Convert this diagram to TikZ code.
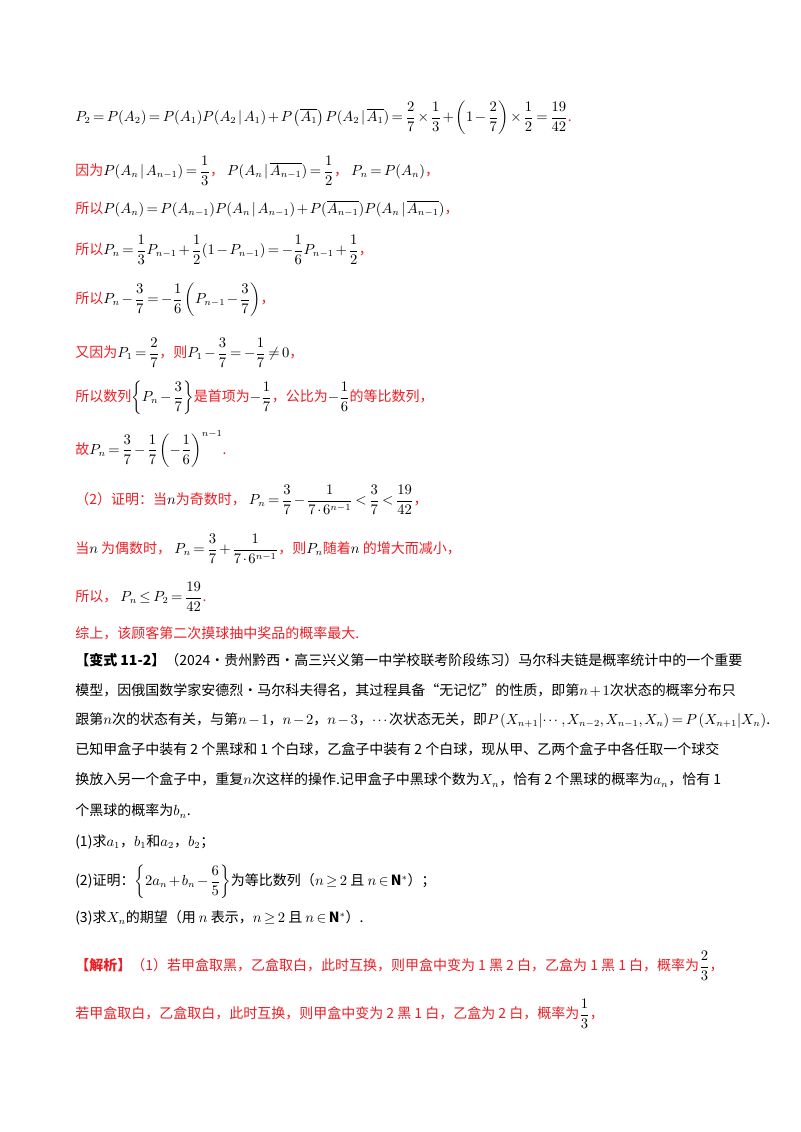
\documentclass[tikz,border=0pt]{standalone}
\usepackage{amsmath,amssymb}
\usepackage{fontspec}
\setmainfont{Noto Sans CJK SC}
\definecolor{ansred}{RGB}{236,30,36}
\thinmuskip=2mu \medmuskip=2mu plus 1mu \thickmuskip=3mu plus 1mu
\begin{document}
\begin{tikzpicture}[x=0.75pt,y=-0.75pt,
 txt/.style={anchor=west,inner sep=0pt,font=\fontsize{10.5}{12}\selectfont},
 red/.style={txt,text=ansred}]
\useasboundingbox (0,0) rectangle (800,1132);
\node[txt] (l1) at (75,118) {$P_2=P(A_2)=P(A_1)P(A_2\,|\,A_1)+P\left(\overline{A_1}\right)P(A_2\,|\,\overline{A_1})=\dfrac27\times\dfrac13+\left(1-\dfrac27\right)\times\dfrac12=\dfrac{19}{42}$\textcolor{ansred}{.}};
\node[red] (l2) at (75,171) {因为\textcolor{black}{$P(A_n\,|\,A_{n-1})=\dfrac13$}，\ \textcolor{black}{$P(A_n\,|\,\overline{A_{n-1}})=\dfrac12$}，\ \textcolor{black}{$P_n=P(A_n)$}，};
\node[red] (l3) at (75,209) {所以\textcolor{black}{$P(A_n)=P(A_{n-1})P(A_n\,|\,A_{n-1})+P(\overline{A_{n-1}})P(A_n\,|\,\overline{A_{n-1}})$}，};
\node[red] (l4) at (75,250) {所以\textcolor{black}{$P_n=\dfrac13P_{n-1}+\dfrac12(1-P_{n-1})=-\dfrac16P_{n-1}+\dfrac12$}，};
\node[red] (l5) at (75,300) {所以\textcolor{black}{$P_n-\dfrac37=-\dfrac16\left(P_{n-1}-\dfrac37\right)$}，};
\node[red] (l6) at (75,353) {又因为\textcolor{black}{$P_1=\dfrac27$}，则\textcolor{black}{$P_1-\dfrac37=-\dfrac17\neq0$}，};
\node[red] (l7) at (75,398) {所以数列\textcolor{black}{$\left\{P_n-\dfrac37\right\}$}是首项为\textcolor{black}{$-\dfrac17$}，公比为\textcolor{black}{$-\dfrac16$}的等比数列，};
\node[red] (l8) at (75,449) {故\textcolor{black}{$P_n=\dfrac37-\dfrac17\left(-\dfrac16\right)^{n-1}$}.};
\node[red] (l9) at (75,500) {（2）证明：当\textcolor{black}{$n$}为奇数时，\ \textcolor{black}{$P_n=\dfrac37-\dfrac{1}{7\cdot6^{n-1}}<\dfrac37<\dfrac{19}{42}$}，};
\node[red] (l10) at (75,549) {当\textcolor{black}{ $n$ }为偶数时，\ \textcolor{black}{$P_n=\dfrac37+\dfrac{1}{7\cdot6^{n-1}}$}，则\textcolor{black}{$P_n$}随着\textcolor{black}{ $n$ }的增大而减小，};
\node[red] (l11) at (75,597) {所以，\ \textcolor{black}{$P_n\le P_2=\dfrac{19}{42}$}.};
\node[red] (l12) at (75,633) {综上，该顾客第二次摸球抽中奖品的概率最大.};
\node[txt] (l13) at (75,660) {\textbf{【变式 11-2】}（2024·贵州黔西·高三兴义第一中学校联考阶段练习）马尔科夫链是概率统计中的一个重要};
\node[txt] (l14) at (75,690) {模型，因俄国数学家安德烈·马尔科夫得名，其过程具备“无记忆”的性质，即第$n+1$次状态的概率分布只};
\node[txt] (l15) at (75,720) {跟第$n$次的状态有关，与第$n-1$，$n-2$，$n-3$，$\cdots$次状态无关，即$P\left(X_{n+1}\middle|\cdots,X_{n-2},X_{n-1},X_n\right)=P\left(X_{n+1}\middle|X_n\right)$.};
\node[txt] (l16) at (75,749) {已知甲盒子中装有 2 个黑球和 1 个白球，乙盒子中装有 2 个白球，现从甲、乙两个盒子中各任取一个球交};
\node[txt] (l17) at (75,780) {换放入另一个盒子中，重复$n$次这样的操作.记甲盒子中黑球个数为$X_n$，恰有 2 个黑球的概率为$a_n$，恰有 1};
\node[txt] (l18) at (75,811) {个黑球的概率为$b_n$.};
\node[txt] (l19) at (75,842) {(1)求$a_1$，$b_1$和$a_2$，$b_2$；};
\node[txt] (l20) at (75,882) {(2)证明：$\left\{2a_n+b_n-\dfrac65\right\}$为等比数列（$n\geq2$ 且 $n\in\mathbf{N}^*$）；};
\node[txt] (l21) at (75,918) {(3)求$X_n$的期望（用 $n$ 表示，$n\geq2$ 且 $n\in\mathbf{N}^*$）.};
\node[red] (l22) at (75,966) {\textbf{【解析】}（1）若甲盒取黑，乙盒取白，此时互换，则甲盒中变为 1 黑 2 白，乙盒为 1 黑 1 白，概率为\textcolor{black}{$\dfrac23$}，};
\node[red] (l23) at (75,1014) {若甲盒取白，乙盒取白，此时互换，则甲盒中变为 2 黑 1 白，乙盒为 2 白，概率为\textcolor{black}{$\dfrac13$}，};
\end{tikzpicture}
\end{document}
